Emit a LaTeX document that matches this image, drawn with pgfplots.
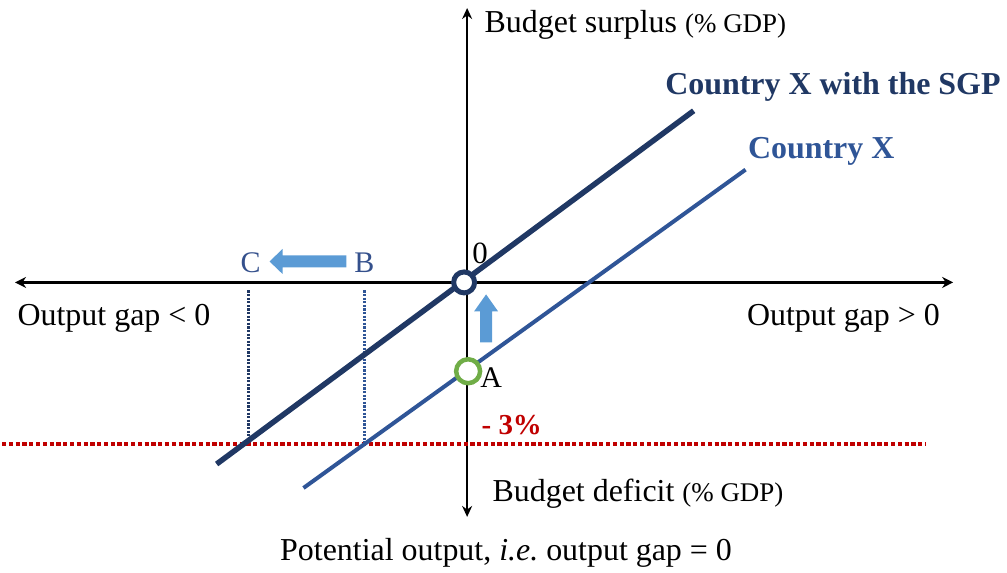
\documentclass[border=0pt]{standalone}
\usepackage{fontspec}
\setmainfont{Liberation Serif}
\usepackage{pgfplots}
\pgfplotsset{compat=1.18}
\usetikzlibrary{arrows.meta}
\definecolor{navy}{HTML}{203864}
\definecolor{midblue}{HTML}{2F5597}
\definecolor{lightblue}{HTML}{5B9BD5}
\definecolor{sgpred}{HTML}{C00000}
\definecolor{agreen}{HTML}{70AD47}
\definecolor{lblcol}{HTML}{34508C}

\begin{document}
\begin{tikzpicture}
\begin{axis}[
    hide axis, scale only axis,
    width=1007pt, height=574pt,
    xmin=0, xmax=1007, ymin=0, ymax=574, y dir=reverse,
    clip=false,
    every node/.style={inner sep=0pt, outer sep=0pt},
]
\path (rel axis cs:0,0) rectangle (rel axis cs:1,1);

% axes
\addplot[black, line width=2.5pt, {Stealth[length=11pt,width=11pt]}-{Stealth[length=11pt,width=11pt]}]
    coordinates {(13,283) (953,283)};
\addplot[black, line width=2.5pt, {Stealth[length=11pt,width=10pt]}-{Stealth[length=11pt,width=10pt]}]
    coordinates {(466,8) (466,518)};

% -3% limit
\addplot[sgpred, line width=4.2pt, dash pattern=on 4.2pt off 2.6pt] coordinates {(0,445) (925,445)};

% projections
\addplot[navy, line width=3pt, dash pattern=on 2.2pt off 1.4pt] coordinates {(247,291) (247,445)};
\addplot[midblue, line width=3pt, dash pattern=on 2.2pt off 1.4pt] coordinates {(363,291) (363,445)};

% balance lines
\addplot[navy, line width=5.5pt] coordinates {(215,465) (693,111)};
\addplot[midblue, line width=4pt] coordinates {(302,489) (745,170)};

% block arrows
\addplot[fill=lightblue, draw=none] coordinates {
    (345,256) (281,256) (281,249.5) (268,262) (281,274.5) (281,268) (345,268)} -- cycle;
\addplot[fill=lightblue, draw=none] coordinates {
    (479,343) (479,312) (473,312) (485,295) (497,312) (491,312) (491,343)} -- cycle;

% points
\addplot[only marks, mark=*, mark size=10.5pt, mark options={draw=navy, fill=white, line width=5pt}]
    coordinates {(463,283)};
\addplot[only marks, mark=*, mark size=12pt, mark options={draw=agreen, fill=white, line width=4.5pt}]
    coordinates {(467,372)};

% texts
\node[anchor=base west, font=\fontsize{32}{36}\selectfont] at (axis cs:480,33)
    {Budget surplus {\fontsize{27}{30}\selectfont(\% GDP)}};
\node[anchor=base west, font=\fontsize{32}{36}\selectfont\bfseries, text=navy] at (axis cs:661,95)
    {Country X with the SGP};
\node[anchor=base west, font=\fontsize{32}{36}\selectfont\bfseries, text=midblue] at (axis cs:744,159)
    {Country X};
\node[anchor=base, font=\fontsize{30}{34}\selectfont, text=lblcol] at (axis cs:249,273) {C};
\node[anchor=base, font=\fontsize{30}{34}\selectfont, text=lblcol] at (axis cs:363,273) {B};
\node[anchor=base, font=\fontsize{31}{34}\selectfont] at (axis cs:479,264) {0};
\node[anchor=base west, font=\fontsize{32}{36}\selectfont] at (axis cs:12,326) {Output gap < 0};
\node[anchor=base west, font=\fontsize{32}{36}\selectfont] at (axis cs:743,326) {Output gap > 0};
\node[anchor=base, font=\fontsize{30}{34}\selectfont] at (axis cs:490,388) {A};
\node[anchor=base west, font=\fontsize{29}{34}\selectfont\bfseries, text=sgpred] at (axis cs:477,435) {- 3\%};
\node[anchor=base west, font=\fontsize{32}{36}\selectfont] at (axis cs:488,503)
    {Budget deficit {\fontsize{27}{30}\selectfont(\% GDP)}};
\node[anchor=base, font=\fontsize{32}{36}\selectfont] at (axis cs:505,562)
    {Potential output, {\itshape i.e.}\ output gap = 0};
\end{axis}
\end{tikzpicture}
\end{document}
